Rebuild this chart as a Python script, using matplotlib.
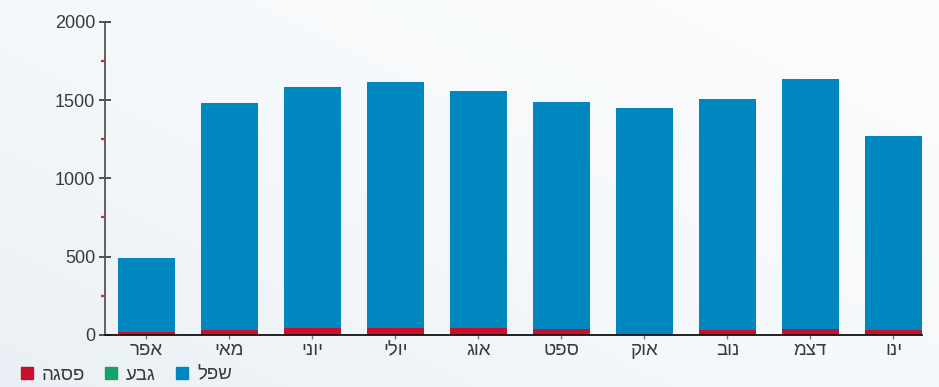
import numpy as np
import matplotlib
matplotlib.use('Agg')
from matplotlib import pyplot as plt
from matplotlib.patches import Patch

plt.rcParams['font.family'] = ['Liberation Sans', 'DejaVu Sans']

# months, logical (right-to-left) order
MONTHS = ['אפר', 'מאי', 'יוני', 'יולי', 'אוג', 'ספט', 'אוק', 'נוב', 'דצמ', 'ינו']
PEAK = [20, 32, 42, 45, 45, 40, 0, 30, 38, 35]          # פסגה
SHOULDER = [0, 0, 0, 0, 0, 0, 0, 0, 0, 0]                # גבע
OFFPEAK = [474, 1451, 1539, 1570, 1510, 1447, 1449, 1478, 1596, 1237]  # שפל
SERIES_NAMES = ['פסגה', 'גבע', 'שפל']

RED = '#c8102e'
GREEN = '#19a265'
BLUE = '#0087c0'
TXT = '#3a3a3a'


def rtl(s):
    # matplotlib has no bidi, so flip hebrew to visual order
    return s[::-1]


fig = plt.figure(figsize=(9.39, 3.87), dpi=100)

# soft background
bg = fig.add_axes([0, 0, 1, 1], zorder=-10)
yy, xx = np.mgrid[0:1:200j, 0:1:400j]
grad = 0.55 * xx + 0.45 * (1 - yy)
bg.imshow(grad, cmap=matplotlib.colors.LinearSegmentedColormap.from_list(
    'bg', ['#eaf0f5', '#f6f9fb', '#fbfcfd']), aspect='auto', extent=[0, 1, 0, 1])
bg.set_axis_off()

ax = fig.add_axes([0.1118, 0.1344, 0.982 - 0.1118, 0.944 - 0.1344])
ax.patch.set_alpha(0)

x = np.arange(len(MONTHS))
peak = np.array(PEAK)
shoulder = np.array(SHOULDER)
offpeak = np.array(OFFPEAK)
w = 0.69
ax.bar(x, peak, w, color=RED, zorder=3)
ax.bar(x, shoulder, w, bottom=peak, color=GREEN, zorder=3)
ax.bar(x, offpeak, w, bottom=peak + shoulder, color=BLUE, zorder=3)

ax.set_xlim(-0.5, 9.345)
ax.set_ylim(0, 2000)
ax.set_yticks([0, 500, 1000, 1500, 2000])
ax.set_yticks([250, 750, 1250, 1750], minor=True)
ax.tick_params(axis='y', which='major', direction='inout', length=8, width=1.2,
               color='#333333', labelsize=13, labelcolor=TXT, pad=3)
ax.tick_params(axis='y', which='minor', direction='out', length=3, width=1.6,
               color='#ff1a1a')
ax.set_xticks(x)
ax.set_xticklabels([rtl(m) for m in MONTHS])
ax.tick_params(axis='x', direction='out', length=3, width=1, color='#777777',
               labelsize=13.5, labelcolor=TXT, pad=2)

for s in ['top', 'right']:
    ax.spines[s].set_visible(False)
ax.spines['left'].set_color('#555555')
ax.spines['left'].set_linewidth(1.3)
ax.spines['bottom'].set_color('#111111')
ax.spines['bottom'].set_linewidth(1.3)
ax.spines['bottom'].set_zorder(5)

handles = [Patch(color=RED), Patch(color=GREEN), Patch(color=BLUE)]
fig.legend(handles, [rtl(n) for n in SERIES_NAMES], loc='lower left',
           bbox_to_anchor=(0.004, -0.035), ncol=3, frameon=False, fontsize=13.5,
           handlelength=0.65, handleheight=0.65, handletextpad=0.45,
           columnspacing=1.1, labelcolor=TXT)

fig.savefig('out.png', dpi=100)
